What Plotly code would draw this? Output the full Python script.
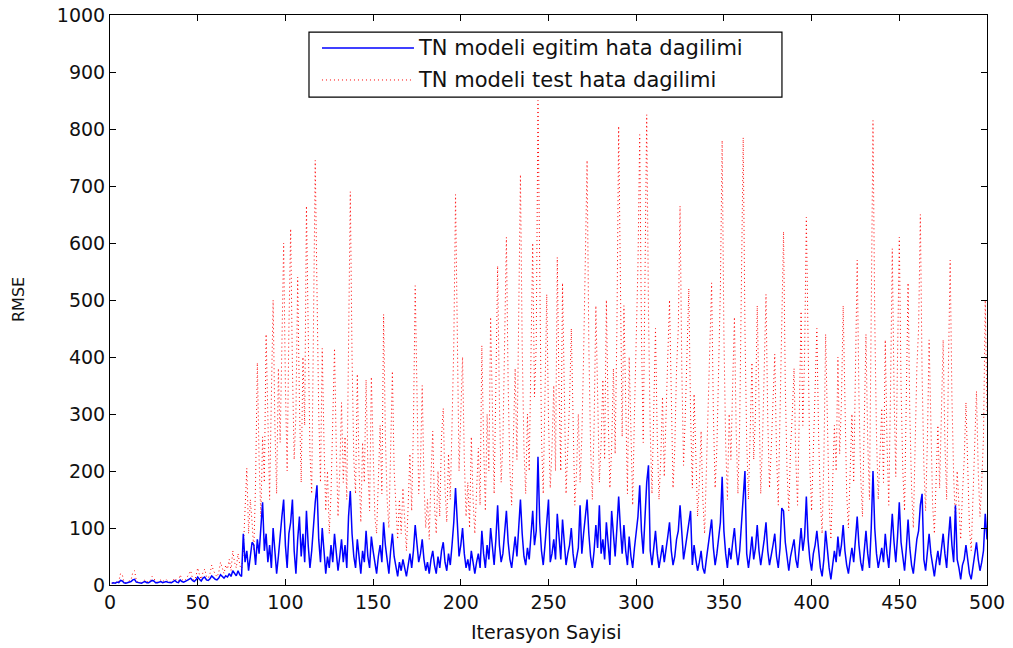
import plotly.graph_objects as go

iterations = list(range(1, 501))

train_rmse = [
    3, 4, 3, 5, 4, 8, 7, 4, 3, 4, 5, 6, 9, 10, 5, 4, 4, 3, 5, 6,
    4, 4, 6, 8, 7, 4, 4, 5, 6, 4, 5, 6, 5, 4, 4, 6, 8, 5, 4, 9,
    6, 5, 6, 8, 10, 12, 8, 6, 9, 14, 10, 7, 12, 14, 9, 8, 11, 16, 13, 10,
    9, 12, 18, 15, 12, 16, 14, 20, 15, 25, 20, 16, 25, 18, 15,
    90, 40, 60, 25, 50, 75, 70, 35, 80, 55,
    100, 145, 60, 90, 40, 70, 30, 100, 60, 20,
    50, 90, 120, 150, 70, 30, 90, 110, 150, 60,
    20, 80, 120, 50, 90, 40, 130, 70, 30, 60,
    110, 145, 175, 80, 40, 100, 60, 20, 50, 30,
    70, 40, 90, 60, 25, 50, 80, 40, 70, 30,
    120, 165, 90, 50, 30, 80, 45, 20, 60, 40,
    95, 50, 30, 85, 60, 35, 20, 50, 70, 40,
    110, 70, 40, 20, 60, 90, 50, 30, 15, 40,
    25, 45, 30, 15, 35, 55, 30, 60, 105, 70,
    40, 55, 80, 45, 25, 40, 20, 45, 60, 35,
    20, 50, 30, 60, 75, 40, 25, 55, 35, 70,
    110, 170, 95, 50, 70, 100, 55, 30, 45, 25,
    60, 35, 20, 40, 55, 30, 95, 55, 30, 70,
    45, 100, 60, 35, 80, 140, 70, 40, 55, 90,
    130, 75, 45, 30, 60, 85, 50, 100, 150, 90,
    50, 35, 65, 45, 85, 130, 70, 95, 225, 110,
    60, 35, 70, 110, 150, 40, 55, 80, 45, 125,
    75, 45, 115, 65, 35, 55, 70, 100, 55, 30,
    45, 65, 140, 55, 90, 120, 150, 90, 50, 30,
    60, 105, 65, 140, 55, 80, 45, 110, 65, 35,
    130, 80, 50, 100, 155, 100, 55, 105, 60, 35,
    85, 50, 30, 65, 95, 120, 175, 95, 55, 110,
    180, 210, 60, 35, 65, 95, 55, 30, 50, 70,
    40, 60, 85, 110, 60, 35, 50, 80, 95, 140,
    80, 45, 65, 90, 110, 130, 35, 70, 45, 25,
    40, 60, 30, 20, 45, 70, 85, 115, 65, 35,
    55, 80, 110, 190, 95, 55, 30, 65, 45, 75,
    100, 60, 35, 60, 110, 170, 200, 55, 30, 55,
    85, 45, 65, 105, 60, 35, 55, 80, 110, 60,
    35, 50, 70, 90, 50, 30, 65, 135, 130, 75,
    45, 25, 50, 65, 80, 45, 30, 65, 100, 60,
    85, 155, 80, 45, 25, 55, 70, 95, 55, 30,
    15, 45, 95, 55, 30, 10, 40, 60, 40, 85,
    50, 70, 105, 60, 35, 20, 45, 65, 40, 80,
    120, 70, 40, 25, 55, 95, 55, 30, 100, 200,
    100, 55, 30, 45, 65, 40, 90, 55, 30, 75,
    125, 75, 40, 85, 145, 75, 45, 25, 65, 115,
    65, 35, 20, 50, 80, 95, 140, 160, 45, 25,
    55, 90, 55, 30, 15, 40, 60, 35, 65, 90,
    55, 30, 80, 120, 70, 40, 140, 45, 30, 10,
    35, 45, 70, 40, 20, 10, 30, 50, 75, 45,
    25, 40, 60, 125, 80,
]

test_rmse = [
    3, 5, 4, 8, 6, 20, 18, 5, 4, 6, 7, 9, 22, 25, 8, 5, 6, 4, 7, 9,
    6, 5, 8, 15, 12, 6, 5, 7, 9, 6, 8, 10, 7, 5, 6, 9, 12, 8, 6, 18,
    10, 7, 9, 14, 20, 25, 12, 8, 15, 30, 18, 10, 22, 28, 15, 12, 20, 35, 25, 18,
    14, 22, 40, 30, 20, 35, 28, 45, 25, 60, 40, 30, 55, 35, 25,
    60, 120, 205, 90, 150, 110, 60, 180, 390, 220,
    120, 260, 180, 440, 300, 150, 330, 500, 280, 160,
    380, 250, 420, 600, 350, 200, 450, 625, 380, 220,
    300, 540, 320, 180, 400, 280, 665, 420, 230, 160,
    480, 745, 520, 300, 180, 415, 250, 130, 200, 90,
    160, 280, 415, 240, 120, 200, 320, 180, 260, 150,
    420, 690, 400, 220, 160, 370, 200, 110, 250, 180,
    360, 210, 130, 365, 240, 120, 90, 180, 280, 160,
    475, 260, 150, 100, 220, 375, 200, 130, 80, 150,
    90, 170, 110, 60, 140, 230, 130, 280, 525, 300,
    160, 210, 350, 180, 100, 150, 80, 190, 270, 140,
    90, 200, 120, 260, 310, 170, 110, 230, 150, 280,
    420, 685, 380, 200, 300, 400, 220, 120, 180, 100,
    260, 150, 90, 170, 240, 140, 420, 250, 130, 300,
    200, 470, 280, 160, 350, 560, 320, 180, 250, 400,
    610, 350, 200, 140, 260, 380, 220, 450, 720, 420,
    240, 160, 300, 200, 380, 600, 330, 420, 850, 480,
    260, 160, 320, 510, 290, 170, 240, 350, 200, 575,
    340, 200, 530, 300, 160, 240, 320, 450, 260, 140,
    200, 300, 180, 260, 400, 560, 745, 420, 240, 150,
    280, 490, 300, 180, 250, 360, 220, 500, 300, 170,
    240, 380, 230, 450, 805, 470, 260, 490, 280, 160,
    400, 240, 140, 300, 450, 560, 790, 440, 250, 500,
    825, 480, 270, 160, 300, 450, 260, 150, 220, 330,
    190, 280, 400, 500, 290, 170, 240, 380, 450, 665,
    380, 210, 300, 420, 520, 300, 170, 335, 200, 120,
    180, 270, 150, 90, 200, 320, 400, 530, 300, 170,
    240, 380, 520, 780, 440, 250, 150, 300, 220, 350,
    470, 270, 160, 280, 500, 785, 450, 250, 150, 260,
    390, 220, 300, 490, 280, 160, 250, 380, 510, 290,
    170, 240, 320, 405, 230, 140, 300, 450, 620, 350,
    200, 130, 240, 300, 380, 220, 140, 300, 480, 280,
    400, 645, 370, 210, 130, 250, 330, 450, 260, 150,
    90, 220, 440, 250, 140, 80, 180, 280, 200, 400,
    230, 320, 490, 280, 160, 100, 210, 300, 180, 380,
    570, 330, 190, 120, 260, 440, 250, 150, 480, 815,
    470, 260, 150, 220, 310, 180, 430, 250, 140, 340,
    590, 340, 190, 400, 610, 350, 200, 130, 300, 530,
    300, 170, 100, 240, 380, 450, 650, 370, 210, 130,
    250, 430, 250, 140, 90, 180, 280, 170, 300, 430,
    250, 150, 380, 570, 330, 190, 110, 200, 140, 80,
    160, 220, 320, 180, 100, 60, 150, 240, 340, 200,
    120, 180, 260, 500, 300,
]

x_ticks = [0, 50, 100, 150, 200, 250, 300, 350, 400, 450, 500]
y_ticks = [0, 100, 200, 300, 400, 500, 600, 700, 800, 900, 1000]
legend_labels = ["TN modeli egitim hata dagilimi", "TN modeli test hata dagilimi"]
x_title = "Iterasyon Sayisi"
y_title = "RMSE"

FONT = "DejaVu Sans"
TXT = "#111111"

fig = go.Figure()
fig.add_trace(go.Scatter(
    x=iterations, y=test_rmse, mode="lines",
    line=dict(color="#ff0000", width=1, dash="1px,3px"),
    name=legend_labels[1], showlegend=False,
))
fig.add_trace(go.Scatter(
    x=iterations, y=train_rmse, mode="lines",
    line=dict(color="#0000ff", width=1.5),
    name=legend_labels[0], showlegend=False,
))

axis_common = dict(
    showgrid=False, zeroline=False, showline=True, linecolor="#000000",
    linewidth=1, mirror="ticks", ticks="inside", ticklen=6, automargin=False,
    tickcolor="#000000", tickfont=dict(family=FONT, size=19, color=TXT),
)
fig.update_xaxes(range=[0, 500], tickvals=x_ticks, ticktext=[str(v) for v in x_ticks],
                 **axis_common)
fig.update_yaxes(range=[0, 1000], tickvals=y_ticks, ticktext=[str(v) for v in y_ticks],
                 **axis_common)

# axis titles
fig.add_annotation(x=0.497, y=-0.0825, xref="paper", yref="paper", text=x_title,
                   showarrow=False, xanchor="center", yanchor="middle",
                   font=dict(family=FONT, size=19, color=TXT))
fig.add_annotation(x=-0.1049, y=0.5, xref="paper", yref="paper", text=y_title,
                   showarrow=False, textangle=-90, xanchor="center", yanchor="middle",
                   font=dict(family=FONT, size=16, color=TXT))

# manual legend (MATLAB style)
lx0, lx1 = 0.2269, 0.7662
ly0, ly1 = 0.856, 0.970
fig.add_shape(type="rect", xref="paper", yref="paper", x0=lx0, x1=lx1, y0=ly0, y1=ly1,
              line=dict(color="#000000", width=1.2), fillcolor="white", layer="above")
fig.add_shape(type="line", xref="paper", yref="paper", x0=0.2417, x1=0.3466, y0=0.942, y1=0.942,
              line=dict(color="#0000ff", width=1.5), layer="above")
fig.add_shape(type="line", xref="paper", yref="paper", x0=0.2417, x1=0.3466, y0=0.886, y1=0.886,
              line=dict(color="#ff0000", width=1, dash="1px,3px"), layer="above")
for lbl, yy in zip(legend_labels, [0.942, 0.886]):
    fig.add_annotation(x=0.349, y=yy, xref="paper", yref="paper", text=lbl, showarrow=False,
                       xanchor="left", yanchor="middle",
                       font=dict(family=FONT, size=21, color=TXT))

fig.update_layout(
    width=1013, height=648,
    margin=dict(l=110, r=26, t=15, b=63),
    paper_bgcolor="white", plot_bgcolor="white",
    showlegend=False,
)

fig.write_html("out.html")
